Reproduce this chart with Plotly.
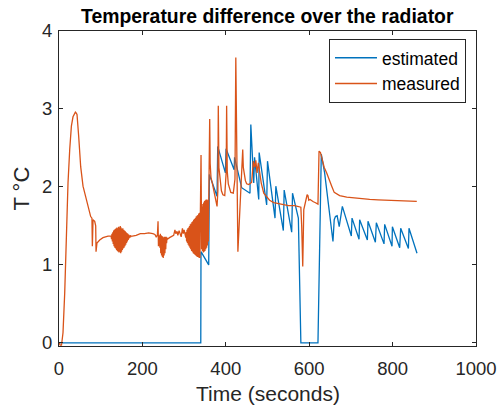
import plotly.graph_objects as go

# ---------------- data ----------------
est_t = [0, 340, 340.5, 359, 360.6, 379, 380.6, 399, 400.6, 420, 421, 438, 458, 460,
         467, 469, 479, 480, 498, 500, 518, 520, 538, 540, 558, 560, 574, 580, 621, 629,
         637, 657, 660, 663, 667, 672, 679.5, 701, 702.7, 719.5, 721, 739.5, 741, 758.7,
         761, 779.4, 781, 798.6, 799.5, 817, 819.4, 837.9, 839.3, 858.5]
est_y = [0, 0, 1.17, 1.00, 2.16, 1.88, 2.52, 2.18, 2.49, 2.22, 2.38, 1.99, 1.92, 2.80,
         2.05, 2.38, 1.84, 2.44, 1.77, 2.33, 1.60, 2.01, 1.44, 1.96, 1.42, 1.92, 1.60, 0.0, 0.0, 2.42,
         2.18, 1.30, 1.58, 1.62, 1.63, 1.49, 1.75, 1.37, 1.60, 1.33, 1.58, 1.32, 1.56, 1.29,
         1.54, 1.27, 1.52, 1.24, 1.49, 1.22, 1.47, 1.21, 1.47, 1.15]

meas_t = [0, 3, 6, 9.6, 13.7, 17.7, 21.6, 25.7, 29.7, 33.6, 37, 39.3, 41, 43.2, 47.2, 52,
          57.6, 63.3, 69.6, 76, 79, 80, 81.6, 85.6, 88, 88.8, 91, 97.6, 105.5, 117.5, 125,
          126, 127, 128, 129, 130, 131, 132, 133, 134, 135, 136, 137, 138, 139, 140, 141,
          142, 143, 144, 145, 146, 147, 148, 149, 150, 151, 152, 153, 154, 155, 156, 157,
          158, 159, 160, 161, 162, 163, 164, 165, 166, 167, 168, 169, 170, 171, 172, 173,
          174, 176, 185, 195, 205, 215, 225, 230, 233, 236, 237.5, 238.5, 240,
          241, 242, 243, 244, 245, 246, 247, 248, 249, 250, 251, 252, 253, 254, 255, 256,
          257, 258, 259, 260, 265, 270, 275, 278, 280, 283, 285, 288, 290, 293, 296, 298,
          300, 302, 304,
          305, 306, 307, 308, 309, 310, 311, 312, 313, 314, 315, 316, 317, 318, 319, 320,
          321, 322, 323, 324, 325, 326, 327, 328, 329, 330, 331, 332, 333, 334, 335, 336,
          337, 338, 339, 340.6, 341.5,
          342, 343, 344, 345, 346, 347, 348, 349, 350, 351, 352, 353, 354, 355, 356, 357,
          358, 359, 360, 361.4, 362.5, 364.5, 368, 372, 376, 379, 381, 382, 383.5, 385,
          389.5, 393, 397.5, 401, 402, 403.5, 406, 412, 418, 422, 424, 429, 437, 440.6,
          442, 444, 447, 450, 455, 460, 462, 466, 469, 472, 475, 478, 482, 485, 491, 497,
          505, 515, 530, 550, 565, 578, 580, 582, 584.5, 587, 591, 595, 597, 599, 602,
          606, 610, 614, 618, 621, 623.6, 627, 630, 636, 642, 648, 654, 660, 666, 673,
          690, 705, 725, 745, 765, 785, 810, 833, 845, 858]
meas_y = [0.0, -0.03, -0.03, 0.13, 0.64, 1.41, 2.05, 2.48, 2.78, 2.90, 2.94, 2.96, 2.95,
          2.93, 2.65, 2.26, 2.01, 1.88, 1.75, 1.62, 1.60, 1.24, 1.58, 1.56, 1.50, 1.17,
          1.28, 1.32, 1.35, 1.37, 1.37,
          1.33, 1.40, 1.30, 1.42, 1.27, 1.44, 1.24, 1.45, 1.22, 1.46, 1.21, 1.47, 1.19,
          1.48, 1.18, 1.47, 1.17, 1.49, 1.16, 1.48, 1.17, 1.50, 1.15, 1.48, 1.17, 1.46,
          1.19, 1.47, 1.21, 1.45, 1.22, 1.44, 1.24, 1.43, 1.26, 1.42, 1.28, 1.41, 1.30,
          1.40, 1.32, 1.39, 1.34, 1.38, 1.35, 1.38, 1.36, 1.37, 1.37,
          1.37, 1.38, 1.40, 1.40, 1.41, 1.40, 1.39, 1.36, 1.38, 1.56, 1.24, 1.35,
          1.38, 1.22, 1.40, 1.15, 1.38, 1.12, 1.37, 1.10, 1.36, 1.09, 1.35, 1.12, 1.36,
          1.15, 1.36, 1.20, 1.36, 1.28, 1.35, 1.33, 1.35, 1.36, 1.38, 1.45, 1.40, 1.43,
          1.38, 1.44, 1.40, 1.36, 1.47, 1.40, 1.45, 1.38, 1.35,
          1.42, 1.30, 1.45, 1.28, 1.47, 1.26, 1.48, 1.24, 1.50, 1.22, 1.52, 1.20, 1.53,
          1.18, 1.55, 1.17, 1.56, 1.15, 1.58, 1.14, 1.59, 1.13, 1.60, 1.12, 1.62, 1.11,
          1.63, 1.10, 1.64, 1.10, 1.66, 1.09, 1.67, 1.09, 1.66, 2.41, 1.65,
          1.20, 1.75, 1.18, 1.78, 1.16, 1.80, 1.17, 1.82, 1.18, 1.83, 1.20, 1.84, 1.22,
          1.84, 1.25, 1.83, 1.30, 1.80, 1.45, 2.87, 2.30, 2.12, 2.04, 1.92, 1.80, 1.75,
          1.95, 3.04, 2.25, 2.17, 1.95, 1.90, 1.89, 2.20, 3.04, 2.20, 2.04, 1.93, 1.92,
          2.10, 3.66, 1.17, 2.09, 2.48, 2.25, 2.18, 2.08, 2.04, 2.03, 2.05, 2.06, 2.33,
          2.25, 2.34, 2.18, 2.31, 2.12, 2.05, 1.92, 1.88, 1.83, 1.80, 1.78, 1.76, 1.76,
          1.75, 1.74, 1.50, 0.98, 1.71, 1.82, 1.90, 1.89, 1.83, 1.84, 1.82, 1.81, 1.80,
          1.79, 1.78, 2.46, 2.44, 2.38, 2.25, 2.18, 2.08, 2.01, 1.93, 1.91, 1.89, 1.87,
          1.86, 1.85, 1.84, 1.835, 1.83, 1.825, 1.82, 1.82, 1.815]

x_ticks = [0, 200, 400, 600, 800, 1000]
y_ticks = [0, 1, 2, 3, 4]

title_text = "Temperature difference over the radiator"
x_label = "Time (seconds)"
y_label = "T °C"

# ---------------- figure ----------------
FONT = "Liberation Sans, Arial, Helvetica, sans-serif"
AX = "#262626"

fig = go.Figure()
fig.add_trace(go.Scatter(x=est_t, y=est_y, mode="lines", name="estimated",
                         line=dict(color="#0072BD", width=1.3)))
fig.add_trace(go.Scatter(x=meas_t, y=meas_y, mode="lines", name="measured",
                         line=dict(color="#D95319", width=1.3)))

axis_common = dict(ticks="inside", ticklen=4, tickcolor=AX, tickwidth=1,
                   showline=True, linecolor=AX, linewidth=1, mirror="ticks",
                   showgrid=False, zeroline=False, automargin=False,
                   tickfont=dict(family=FONT, size=18.5, color=AX))
fig.update_xaxes(range=[0, 1000], tickvals=x_ticks, ticklabelstandoff=6, **axis_common)
fig.update_yaxes(range=[-0.04, 4], tickvals=y_ticks, ticklabelstandoff=2, **axis_common)

fig.update_layout(
    width=499, height=410,
    margin=dict(l=59, r=23, t=31, b=64, autoexpand=False),
    plot_bgcolor="white", paper_bgcolor="white",
    font=dict(family=FONT, color=AX, size=18),
    showlegend=True,
    legend=dict(x=0.976, y=0.975, xanchor="right", yanchor="top",
                bordercolor=AX, borderwidth=1, bgcolor="white",
                font=dict(family=FONT, size=17.5, color="#000000"),
                itemwidth=42, tracegroupgap=0),
    annotations=[
        dict(text="<b>" + title_text + "</b>", xref="paper", yref="paper",
             x=0.5, y=1.049, xanchor="center", yanchor="middle", showarrow=False,
             font=dict(family=FONT, size=19.4, color="#000000")),
        dict(text=x_label, xref="paper", yref="paper",
             x=0.5, y=-0.152, xanchor="center", yanchor="middle", showarrow=False,
             font=dict(family=FONT, size=21, color=AX)),
        dict(text=y_label, xref="paper", yref="paper", textangle=-90,
             x=-0.091, y=0.5, xanchor="center", yanchor="middle", showarrow=False,
             font=dict(family=FONT, size=22, color=AX)),
    ],
)

fig.write_html("out.html")
